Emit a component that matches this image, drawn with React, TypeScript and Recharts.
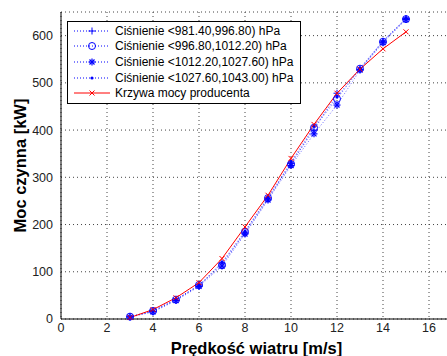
import React from "react";
import {
  LineChart,
  Line,
  XAxis,
  YAxis,
  CartesianGrid,
  Label,
} from "recharts";

const windSpeed = [3, 4, 5, 6, 7, 8, 9, 10, 11, 12, 13, 14, 15];
const p1 = [5, 16, 40, 70, 118, 182, 254, 330, 400, 478, 528, 588, 636];
const p2 = [5, 17, 41, 72, 114, 185, 256, 328, 405, 466, 530, 587, 635];
const p3 = [4, 15, 39, 69, 112, 180, 252, 325, 392, 453, 527, 585, 634];
const p4 = [4, 18, 42, 71, 120, 186, 258, 332, 408, 470, 531, 589, 637];
const producer = [3, 20, 45, 77, 128, 195, 262, 340, 412, 478, 529, 572, 608];

const xTicks = [0, 2, 4, 6, 8, 10, 12, 14, 16];
const yTicks = [0, 100, 200, 300, 400, 500, 600];

const seriesNames = [
  "Ciśnienie <981.40,996.80) hPa",
  "Ciśnienie <996.80,1012.20) hPa",
  "Ciśnienie <1012.20,1027.60) hPa",
  "Ciśnienie <1027.60,1043.00) hPa",
  "Krzywa mocy producenta",
];

const data = windSpeed.map((v, i) => ({
  v,
  p1: p1[i],
  p2: p2[i],
  p3: p3[i],
  p4: p4[i],
  prod: producer[i],
}));

type Kind = "plus" | "circle" | "star" | "dot" | "cross";
const kinds: Kind[] = ["plus", "circle", "star", "dot", "cross"];
const BLUE = "#0000ff";
const RED = "#ff0000";
const FONT = "Liberation Sans, Arial, sans-serif";

function Marker({ kind, cx, cy }: { kind: Kind; cx: number; cy: number }) {
  const c = kind === "cross" ? RED : BLUE;
  const r = 3.5;
  if (kind === "plus")
    return (
      <g stroke={c} strokeWidth={1}>
        <line x1={cx - r} y1={cy} x2={cx + r} y2={cy} />
        <line x1={cx} y1={cy - r} x2={cx} y2={cy + r} />
      </g>
    );
  if (kind === "circle")
    return <circle cx={cx} cy={cy} r={3.5} fill="none" stroke={c} strokeWidth={1} />;
  if (kind === "star")
    return (
      <g stroke={c} strokeWidth={1.2}>
        <line x1={cx - r} y1={cy} x2={cx + r} y2={cy} />
        <line x1={cx} y1={cy - r} x2={cx} y2={cy + r} />
        <line x1={cx - 2.5} y1={cy - 2.5} x2={cx + 2.5} y2={cy + 2.5} />
        <line x1={cx - 2.5} y1={cy + 2.5} x2={cx + 2.5} y2={cy - 2.5} />
      </g>
    );
  if (kind === "dot") return <circle cx={cx} cy={cy} r={1.6} fill={c} />;
  return (
    <g stroke={c} strokeWidth={1}>
      <line x1={cx - 2.5} y1={cy - 2.5} x2={cx + 2.5} y2={cy + 2.5} />
      <line x1={cx - 2.5} y1={cy + 2.5} x2={cx + 2.5} y2={cy - 2.5} />
    </g>
  );
}

const makeDot = (kind: Kind) => (props: any) =>
  <Marker key={`${kind}-${props.index}`} kind={kind} cx={props.cx} cy={props.cy} />;

function LegendBox() {
  return (
    <div
      style={{
        position: "absolute",
        left: 67,
        top: 21,
        width: 228,
        height: 80,
        boxSizing: "content-box",
        border: "1px solid #000",
        background: "#fff",
        padding: "1px 0 0 4px",
        fontFamily: FONT,
        fontSize: 12,
        color: "#000",
      }}
    >
      {seriesNames.map((name, i) => (
        <div key={name} style={{ display: "flex", alignItems: "center", height: 15.6 }}>
          <svg width={40} height={12} style={{ marginRight: 3 }}>
            <line
              x1={2}
              y1={6}
              x2={38}
              y2={6}
              stroke={i === 4 ? RED : BLUE}
              strokeWidth={1}
              strokeDasharray={i === 4 ? undefined : "1 2"}
            />
            <Marker kind={kinds[i]} cx={20} cy={6} />
          </svg>
          <span style={{ whiteSpace: "nowrap" }}>{name}</span>
        </div>
      ))}
    </div>
  );
}

const tickStyle = { fill: "#222", fontSize: 12.5, fontFamily: FONT };

export default function App() {
  const blueKeys = ["p1", "p2", "p3", "p4"];
  return (
    <div
      style={{
        position: "fixed",
        left: 0,
        top: 0,
        width: 447,
        height: 356,
        overflow: "hidden",
        background: "#fff",
      }}
    >
      <LineChart
        width={452}
        height={356}
        data={data}
        margin={{ top: 12, right: 0, left: 0, bottom: 0 }}
      >
        <CartesianGrid stroke="#444" strokeDasharray="1 3" />
        <XAxis
          dataKey="v"
          type="number"
          domain={[0, 17]}
          ticks={xTicks}
          allowDataOverflow
          height={37}
          tick={tickStyle}
          tickLine={false}
          tickSize={3}
          tickMargin={1}
          axisLine={{ stroke: "#000" }}
        >
          <Label
            value="Prędkość wiatru [m/s]"
            position="insideBottom"
            offset={2}
            style={{ fontSize: 16.5, fontWeight: "bold", fill: "#000", fontFamily: FONT }}
          />
        </XAxis>
        <XAxis
          xAxisId="top"
          orientation="top"
          dataKey="v"
          type="number"
          domain={[0, 17]}
          height={0}
          tick={false}
          tickLine={false}
          axisLine={{ stroke: "#000" }}
        />
        <YAxis
          type="number"
          domain={[0, 650]}
          ticks={yTicks}
          width={61}
          tick={tickStyle}
          tickLine={false}
          axisLine={{ stroke: "#000" }}
        >
          <Label
            value="Moc czynna [kW]"
            angle={-90}
            position="insideLeft"
            offset={20}
            style={{ textAnchor: "middle", fontSize: 16.5, fontWeight: "bold", fill: "#000", fontFamily: FONT }}
          />
        </YAxis>
        {blueKeys.map((k, i) => (
          <Line
            key={k}
            dataKey={k}
            stroke={BLUE}
            strokeOpacity={0.6}
            strokeWidth={1}
            strokeDasharray="1 2"
            dot={makeDot(kinds[i])}
            isAnimationActive={false}
          />
        ))}
        <Line
          dataKey="prod"
          stroke={RED}
          strokeWidth={1}
          dot={makeDot("cross")}
          isAnimationActive={false}
        />
      </LineChart>
      <LegendBox />
    </div>
  );
}
